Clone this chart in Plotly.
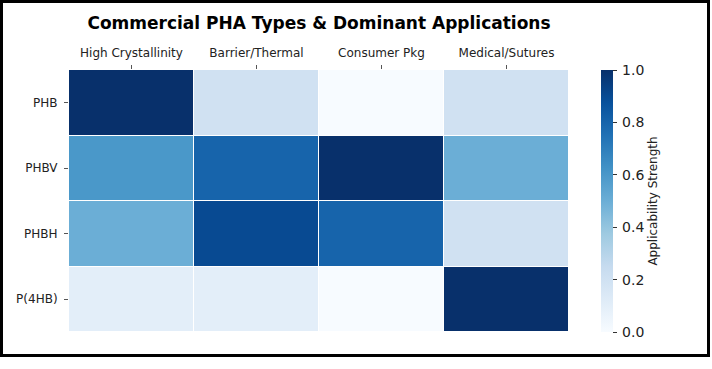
import plotly.graph_objects as go

applications = ["High Crystallinity", "Barrier/Thermal", "Consumer Pkg", "Medical/Sutures"]
pha_types = ["PHB", "PHBV", "PHBH", "P(4HB)"]
phb = [1.0, 0.2, 0.0, 0.2]
phbv = [0.6, 0.8, 1.0, 0.5]
phbh = [0.5, 0.9, 0.8, 0.2]
p4hb = [0.1, 0.1, 0.0, 1.0]
cbar_ticks = [0.0, 0.2, 0.4, 0.6, 0.8, 1.0]

blues = [[0.0, "#f7fbff"], [0.125, "#deebf7"], [0.25, "#c6dbef"], [0.375, "#9ecae1"],
         [0.5, "#6baed6"], [0.625, "#4292c6"], [0.75, "#2171b5"], [0.875, "#08519c"],
         [1.0, "#08306b"]]

W, H = 712, 369
L, R, T, B = 69, 569, 70, 332

fig = go.Figure(go.Heatmap(
    z=[phb, phbv, phbh, p4hb], x=applications, y=pha_types,
    colorscale=blues, zmin=0, zmax=1, xgap=1, ygap=1,
    colorbar=dict(
        x=(601 - L) / (R - L), xanchor="left", xref="paper",
        y=0.5, yanchor="middle", len=1, lenmode="fraction",
        xpad=0, ypad=0,
        thickness=12, outlinewidth=0,
        tickvals=cbar_ticks, ticktext=["\u2009" + f"{v:.1f}" for v in cbar_ticks],
        ticks="outside", ticklen=4, tickcolor="#333", tickwidth=1,
        tickfont=dict(family="DejaVu Sans", size=14, color="#222"),
        title=dict(text="Applicability Strength", side="right",
                   font=dict(family="DejaVu Sans", size=12, color="#222")),
    ),
))

def px_x(p):
    return (p - L) / (R - L)

def px_y(p):
    return (B - p) / (B - T)

fig.update_layout(
    width=W, height=H,
    margin=dict(l=L, r=W - R, t=T, b=H - B),
    paper_bgcolor="white", plot_bgcolor="white",
    title=dict(text="<b>Commercial PHA Types & Dominant Applications</b>",
               x=px_x(319), xanchor="center", xref="paper",
               y=1 - 23 / H, yanchor="middle",
               font=dict(family="DejaVu Sans", size=17, color="black")),
    xaxis=dict(side="top", ticks="outside", ticklen=4, tickcolor="#555",
               ticklabelstandoff=3,
               tickfont=dict(family="DejaVu Sans", size=12, color="#222"),
               showgrid=False, zeroline=False),
    yaxis=dict(autorange="reversed", ticks="outside", ticklen=4, tickcolor="#555",
               ticklabelstandoff=4,
               tickfont=dict(family="DejaVu Sans", size=12, color="#222"),
               showgrid=False, zeroline=False),
    shapes=[dict(type="rect", xref="paper", yref="paper",
                 x0=px_x(1.5), x1=px_x(708.5), y0=px_y(355.5), y1=px_y(1.5),
                 line=dict(color="black", width=3), fillcolor="rgba(0,0,0,0)",
                 layer="above")],
)

fig.write_html("out.html", config={"displayModeBar": False},
               post_script="document.body.style.margin='0';")
